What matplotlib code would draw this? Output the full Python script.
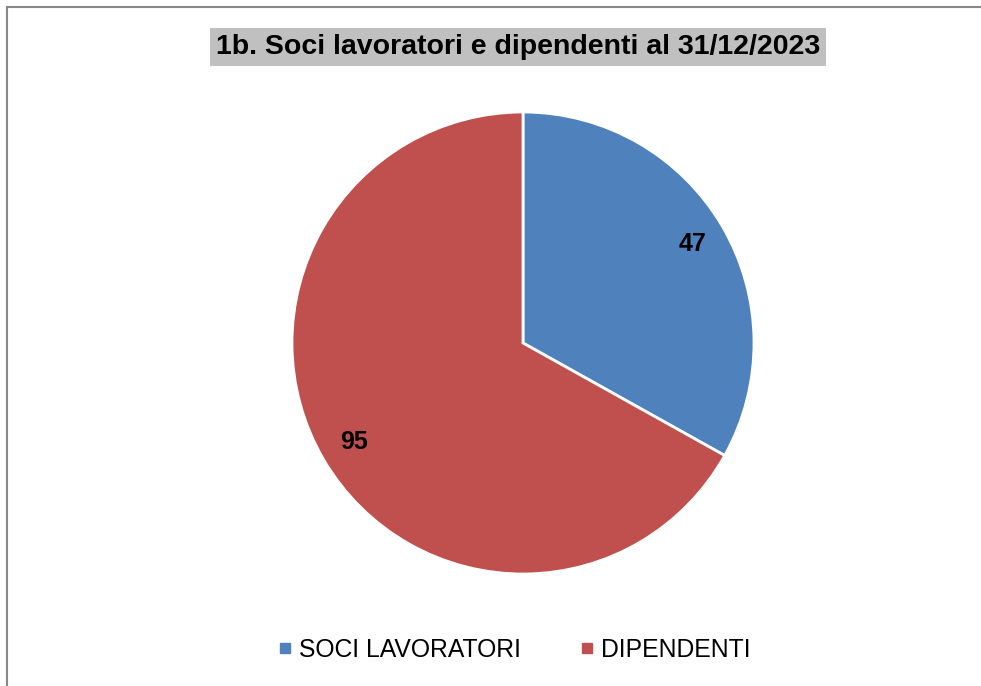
import matplotlib

matplotlib.use("Agg")
import matplotlib.pyplot as plt
from matplotlib.lines import Line2D

plt.rcParams["font.family"] = ["Liberation Sans", "DejaVu Sans"]

categories = ["SOCI LAVORATORI", "DIPENDENTI"]
values = [47, 95]
colors = ["#4F81BD", "#C0504D"]
title = "1b. Soci lavoratori e dipendenti al 31/12/2023"

W, H = 981, 686
fig = plt.figure(figsize=(W / 100, H / 100), dpi=100)

# pie axes: centre (523, 343) px, radius 231 px
r = 231
ax = fig.add_axes([(523 - r) / W, 1 - (343 + r) / H, 2 * r / W, 2 * r / H])
wedges, texts, autotexts = ax.pie(
    values,
    colors=colors,
    startangle=90,
    counterclock=False,
    radius=1,
    autopct=lambda p: f"{p * sum(values) / 100:.0f}",
    pctdistance=0.85,
    wedgeprops=dict(edgecolor="white", linewidth=2),
    textprops=dict(fontsize=18, fontweight="bold", color="black"),
)
ax.set_xlim(-1, 1)
ax.set_ylim(-1, 1)
ax.set_aspect("auto")
ax.axis("off")

# title with grey box
fig.text(518 / W, 1 - 47 / H, title, ha="center", va="center",
         fontsize=20.5, fontweight="bold",
         bbox=dict(boxstyle="square,pad=0.2", facecolor="#C0C0C0", edgecolor="none"))

# legend
handles = [Line2D([], [], marker="s", linestyle="none", markersize=6.5,
                  markerfacecolor=c, markeredgecolor=c) for c in colors]
fig.legend(handles, categories, loc="center", bbox_to_anchor=(515 / W, 1 - 650 / H),
           ncol=2, frameon=False, fontsize=17.8, handlelength=0.45,
           handletextpad=0.32, columnspacing=2.45)

# partial chart border (left and top edges)
fig.add_artist(Line2D([6.5 / W, 6.5 / W], [0, 1 - 7 / H], transform=fig.transFigure,
                      color="#888888", linewidth=1.5))
fig.add_artist(Line2D([6.5 / W, 980 / W], [1 - 7 / H, 1 - 7 / H], transform=fig.transFigure,
                      color="#888888", linewidth=1.5))

fig.savefig("out.png", dpi=100)
